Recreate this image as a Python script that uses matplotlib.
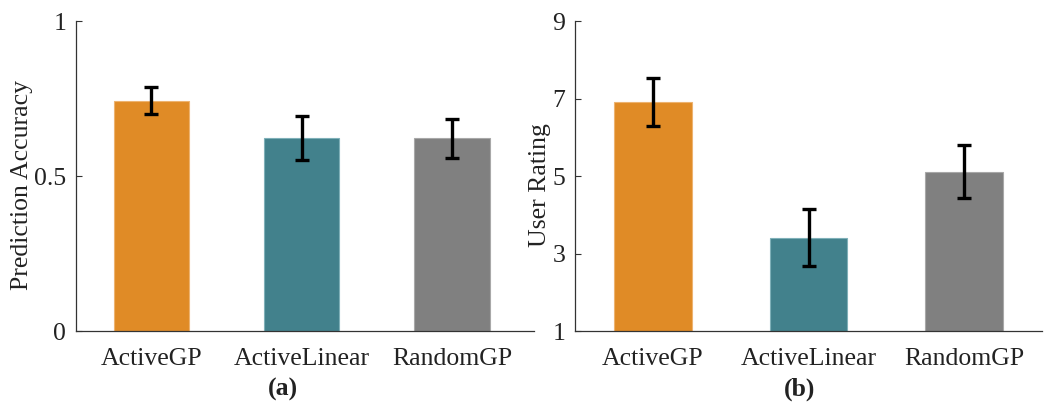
import matplotlib
matplotlib.use('Agg')
import matplotlib.pyplot as plt
import numpy as np

# dados
metodos = ['ActiveGP', 'ActiveLinear', 'RandomGP']
acuracia = [0.743, 0.622, 0.622]
acuracia_err = [0.044, 0.071, 0.063]
nota = [6.91, 3.41, 5.11]
nota_err = [0.62, 0.73, 0.69]

cores = ['#E08B26', '#42818C', '#808080']
bordas = ['#EDB370', '#7FB0B8', '#A8A8A8']

plt.rcParams['font.family'] = ['Liberation Serif', 'DejaVu Serif']
tam = 18.5

W, H = 1060, 405
fig = plt.figure(figsize=(W / 100, H / 100), dpi=100)


def painel(x0, x1, y0, y1, valores, erros, lim, ticks, ylabel, xlim, lab_x):
    ax = fig.add_axes([x0 / W, 1 - y1 / H, (x1 - x0) / W, (y1 - y0) / H])
    x = np.arange(len(metodos))
    ax.bar(x, valores, width=0.5, color=cores, edgecolor=bordas, linewidth=0.8)
    ax.errorbar(x, valores, yerr=erros, fmt='none', ecolor='black',
                elinewidth=2.4, capsize=5.2, capthick=2.4)
    ax.set_ylim(*lim)
    ax.set_xlim(*xlim)
    ax.set_yticks(ticks)
    ax.set_yticklabels([('%g' % t) for t in ticks])
    ax.set_xticks(x)
    ax.set_xticklabels(metodos)
    ax.tick_params(axis='x', length=0, pad=12, labelsize=tam, colors='#222222')
    ax.tick_params(axis='y', direction='in', length=4, width=0.8, pad=7,
                   labelsize=tam, colors='#333333', labelcolor='#222222')
    ax.spines['top'].set_visible(False)
    ax.spines['right'].set_visible(False)
    for s in ['left', 'bottom']:
        ax.spines[s].set_color('#333333')
        ax.spines[s].set_linewidth(0.9)
    ax.set_ylabel(ylabel, fontsize=tam, color='#222222', va='center')
    # posicao do rotulo do eixo y (centro em pixels)
    ax.yaxis.set_label_coords((lab_x - x0) / (x1 - x0), 1 - (185 - y0) / (y1 - y0))
    return ax


ax1 = painel(76, 534, 21, 331, acuracia, acuracia_err, (0, 1), [0, 0.5, 1],
             'Prediction Accuracy', (-0.5, 2.545), 22)
ax2 = painel(575, 1042, 21, 331, nota, nota_err, (1, 9), [1, 3, 5, 7, 9],
             'User Rating', (-0.5, 2.5), 540)

fig.text(283 / W, 1 - 389 / H, '(a)', ha='center', va='center',
         fontsize=tam, fontweight='bold', color='#222222')
fig.text(800 / W, 1 - 389 / H, '(b)', ha='center', va='center',
         fontsize=tam, fontweight='bold', color='#222222')

fig.savefig('out.png', dpi=100)
